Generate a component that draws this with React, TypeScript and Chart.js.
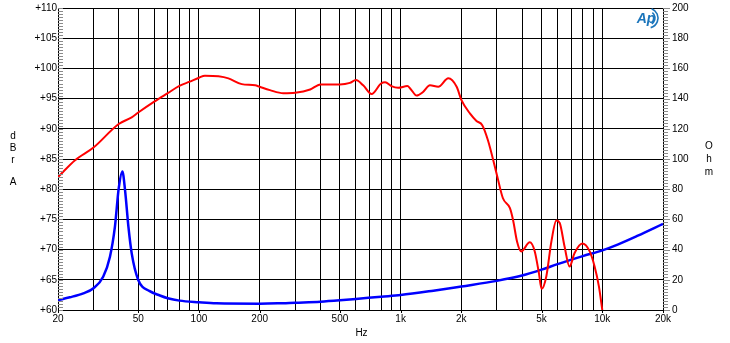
import React, { useEffect, useRef } from "react";
import { Chart, registerables } from "chart.js";

Chart.register(...registerables);

// SPL response (red), dBrA
const splFreq = [20, 24.3, 30, 40, 46.4, 50, 60, 70, 80, 90, 100, 107, 125, 140, 163, 190, 200, 225, 262, 300, 356, 400, 500, 560, 600, 652, 718, 800, 838, 900, 972, 1080, 1120, 1200, 1292, 1398, 1536, 1724, 1896, 2000, 2210, 2378, 2540, 2710, 3000, 3216, 3480, 3610, 3780, 3960, 4370, 4625, 4850, 5000, 5280, 5590, 5920, 6150, 6500, 6880, 7280, 7960, 8660, 9160, 9620, 10000];
const splDb = [82.0, 84.8, 86.9, 90.8, 91.9, 92.7, 94.5, 95.9, 97.1, 97.8, 98.45, 98.8, 98.7, 98.35, 97.4, 97.2, 96.95, 96.4, 95.9, 95.97, 96.5, 97.35, 97.35, 97.6, 98.07, 97.2, 95.75, 97.5, 97.7, 97.07, 96.8, 97.07, 96.6, 95.5, 96.1, 97.2, 96.95, 98.35, 96.95, 94.8, 92.5, 91.3, 90.6, 88.1, 82.4, 78.5, 76.9, 74.9, 71.3, 69.7, 71.2, 69.7, 66.1, 63.5, 65.6, 71.3, 74.8, 74.4, 70.5, 67.2, 69.4, 71.0, 69.7, 67.2, 63.9, 60.0];

// Impedance (blue), Ohm
const impFreq = [20, 22.9, 26.7, 30, 33.5, 36.2, 38.3, 40, 41.7, 43, 44.7, 46.4, 50, 57, 64, 70, 80, 100, 122, 200, 246, 300, 400, 500, 600, 800, 1000, 1454, 2000, 3000, 4000, 5000, 6000, 8000, 10000, 12000, 15000, 20000];
const impOhm = [6.6, 8.4, 11.0, 14.4, 22.0, 35.3, 55.0, 80.5, 91.8, 79.4, 55.0, 37.5, 19.9, 12.5, 9.6, 7.8, 6.2, 5.1, 4.4, 4.2, 4.4, 4.85, 5.5, 6.4, 7.3, 8.8, 9.9, 12.8, 15.6, 19.3, 22.8, 26.7, 30.4, 35.7, 39.5, 43.5, 49.2, 57.0];

// Axis ticks
const freqGridTicks = [20, 30, 40, 50, 60, 70, 80, 90, 100, 200, 300, 400, 500, 600, 700, 800, 900, 1000, 2000, 3000, 4000, 5000, 6000, 7000, 8000, 9000, 10000, 20000];
const freqLabelValues = [20, 50, 100, 200, 500, 1000, 2000, 5000, 10000, 20000];
const freqLabelTexts = ["20", "50", "100", "200", "500", "1k", "2k", "5k", "10k", "20k"];
const dbTicks = [60, 65, 70, 75, 80, 85, 90, 95, 100, 105, 110];
const ohmTicks = [0, 20, 40, 60, 80, 100, 120, 140, 160, 180, 200];

const FONT = "'Liberation Sans', Arial, sans-serif";

const zeroPad = (s: any) => {
  s.paddingTop = 0;
  s.paddingBottom = 0;
  s.paddingLeft = 0;
  s.paddingRight = 0;
};

const extrasPlugin = {
  id: "extras",
  afterDraw(chart: any) {
    const ctx = chart.ctx;
    const area = chart.chartArea;
    const ys = chart.scales.y;
    const yr = chart.scales.y1;
    const xs = chart.scales.x;
    ctx.save();
    ctx.strokeStyle = "#8a8a8a";
    ctx.lineWidth = 1;
    ctx.beginPath();
    for (let v = 60; v <= 110.001; v += 0.5) {
      const y = Math.round(ys.getPixelForValue(v)) + 0.5;
      ctx.moveTo(area.left, y);
      ctx.lineTo(area.left + 5, y);
    }
    for (let v = 0; v <= 200.001; v += 2) {
      const y = Math.round(yr.getPixelForValue(v)) + 0.5;
      const len = v % 20 === 0 ? 7 : 5;
      ctx.moveTo(area.right, y);
      ctx.lineTo(area.right + len, y);
    }
    ctx.stroke();
    ctx.strokeStyle = "#000";
    ctx.beginPath();
    freqLabelValues.forEach((f) => {
      const x = Math.round(xs.getPixelForValue(f)) + 0.5;
      ctx.moveTo(x, area.bottom);
      ctx.lineTo(x, area.bottom + 3);
    });
    ctx.stroke();

    ctx.fillStyle = "#000";
    ctx.font = `10px ${FONT}`;
    ctx.textAlign = "center";
    ctx.textBaseline = "middle";
    [["d", 136], ["B", 148], ["r", 160], ["A", 182]].forEach(([t, y]) => ctx.fillText(t as string, 13, y as number));
    [["O", 146], ["h", 159], ["m", 172]].forEach(([t, y]) => ctx.fillText(t as string, 709, y as number));
    ctx.fillText("Hz", (area.left + area.right) / 2 + 1, 333);

    // AP logo
    ctx.fillStyle = "#1b75bb";
    ctx.strokeStyle = "#1b75bb";
    ctx.font = `italic bold 14px ${FONT}`;
    ctx.fillText("Ap", 646, 19);
    ctx.lineWidth = 1.6;
    ctx.beginPath();
    ctx.arc(648, 18, 10, -1.2, 1.3);
    ctx.stroke();
    ctx.beginPath();
    ctx.arc(648, 18, 7, -0.9, 1.0);
    ctx.stroke();
    ctx.restore();
  },
};

export default function App() {
  const ref = useRef<HTMLCanvasElement | null>(null);
  useEffect(() => {
    if (!ref.current) return;
    const font = { family: FONT, size: 10 };
    const chart = new Chart(ref.current, {
      type: "line",
      data: {
        datasets: [
          {
            label: "SPL",
            data: splFreq.map((f, i) => ({ x: f, y: splDb[i] })),
            yAxisID: "y",
            borderColor: "#ff0000",
            borderWidth: 2,
            pointRadius: 0,
            cubicInterpolationMode: "monotone",
            fill: false,
          },
          {
            label: "Impedance",
            data: impFreq.map((f, i) => ({ x: f, y: impOhm[i] })),
            yAxisID: "y1",
            borderColor: "#0000ff",
            borderWidth: 2.5,
            pointRadius: 0,
            cubicInterpolationMode: "monotone",
            fill: false,
          },
        ],
      },
      options: {
        responsive: false,
        animation: false,
        devicePixelRatio: 1,
        layout: { padding: { top: 8, left: 0, right: 0, bottom: 0 } },
        plugins: { legend: { display: false }, tooltip: { enabled: false } },
        scales: {
          x: {
            type: "logarithmic",
            min: 20,
            max: 20000,
            afterBuildTicks: (s: any) => {
              s.ticks = freqGridTicks.map((v) => ({ value: v }));
            },
            afterFit: (s: any) => {
              s.height = 33;
              zeroPad(s);
            },
            ticks: {
              autoSkip: false,
              maxRotation: 0,
              padding: 3,
              color: "#000",
              font,
              callback: (v: any) => {
                const i = freqLabelValues.indexOf(Number(v));
                return i >= 0 ? freqLabelTexts[i] : "";
              },
            },
            grid: { color: "#000", lineWidth: 1, drawTicks: false },
            border: { color: "#000" },
          },
          y: {
            type: "linear",
            position: "left",
            min: 60,
            max: 110,
            afterBuildTicks: (s: any) => {
              s.ticks = dbTicks.map((v) => ({ value: v }));
            },
            afterFit: (s: any) => {
              s.width = 58;
              zeroPad(s);
            },
            ticks: {
              padding: 1,
              color: "#000",
              font,
              callback: (v: any) => "+" + v,
            },
            grid: { color: "#000", lineWidth: 1, drawTicks: false },
            border: { color: "#000" },
          },
          y1: {
            type: "linear",
            position: "right",
            min: 0,
            max: 200,
            afterBuildTicks: (s: any) => {
              s.ticks = ohmTicks.map((v) => ({ value: v }));
            },
            afterFit: (s: any) => {
              s.width = 67;
              zeroPad(s);
            },
            ticks: { padding: 9, color: "#000", font },
            grid: { drawOnChartArea: false, drawTicks: false },
            border: { color: "#000" },
          },
        },
      },
      plugins: [extrasPlugin],
    } as any);
    return () => chart.destroy();
  }, []);
  return (
    <div style={{ position: "absolute", left: 0, top: 0, width: 730, height: 343, background: "#fff" }}>
      <canvas ref={ref} width={730} height={343} style={{ display: "block" }} />
    </div>
  );
}
